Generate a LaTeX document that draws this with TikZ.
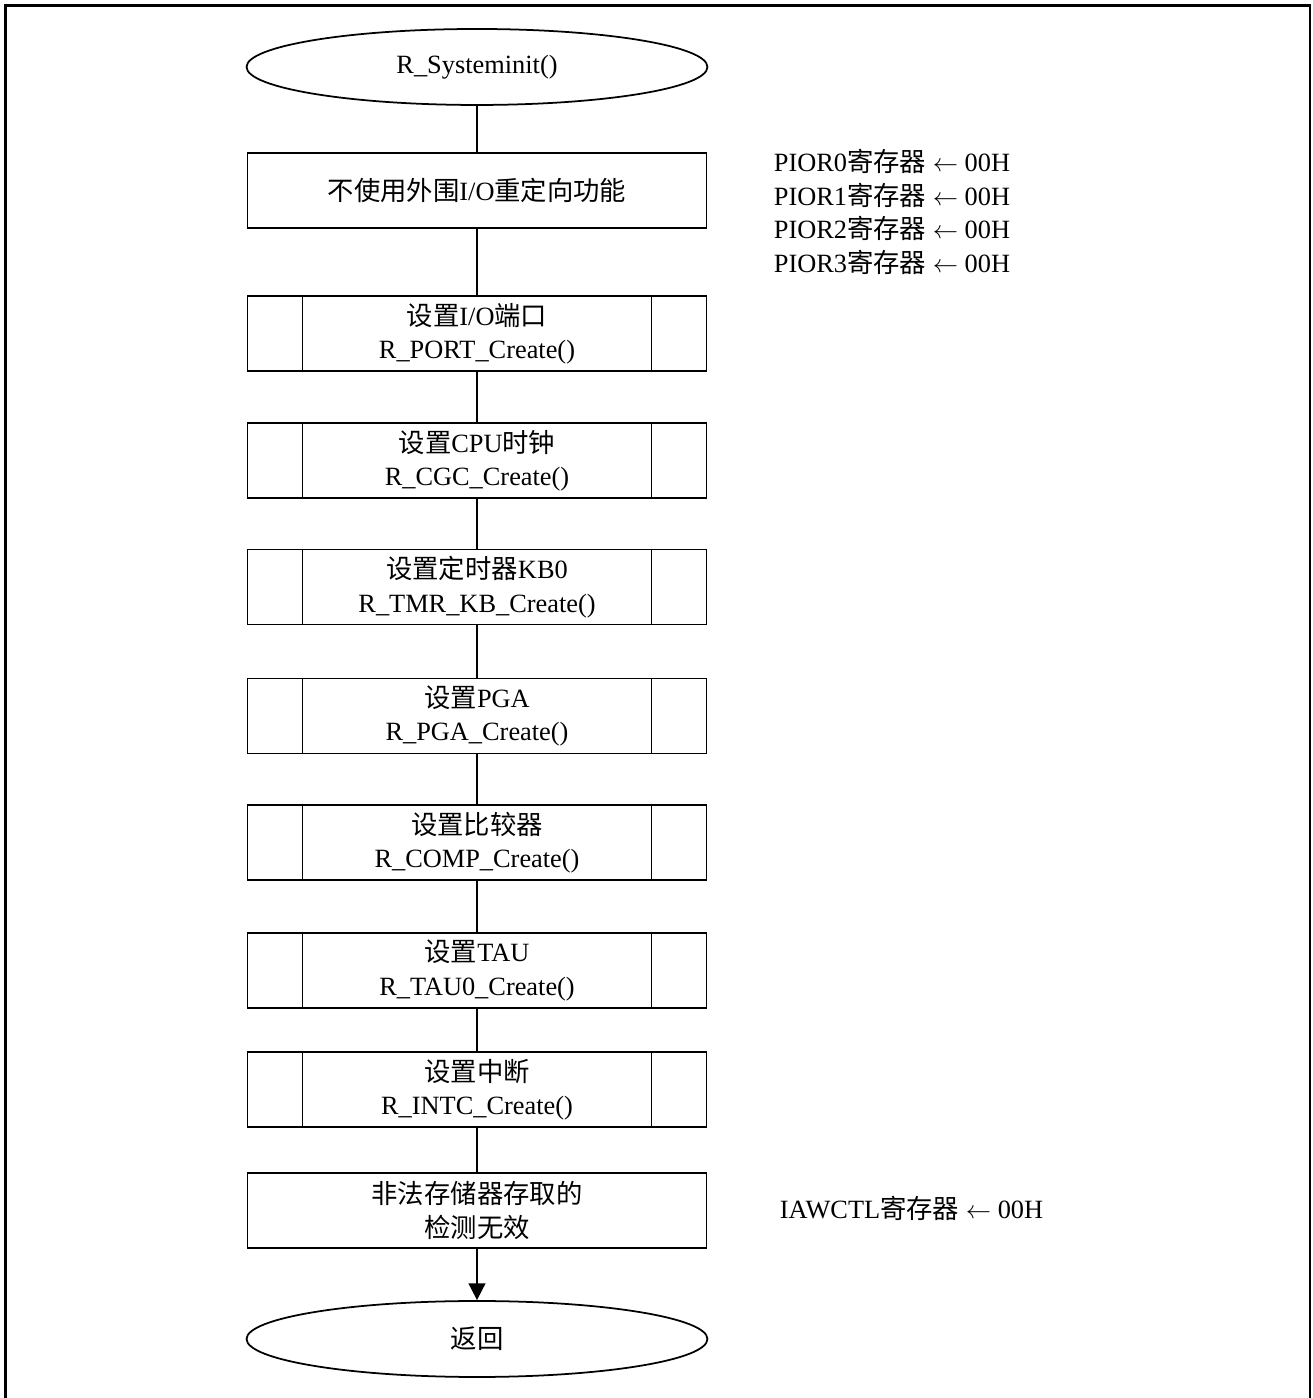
\documentclass[tikz,border=0pt]{standalone}
\usepackage{fontspec}
\setmainfont{Liberation Serif}
\newfontfamily\cjk{Noto Sans CJK SC}
\newcommand{\zh}[1]{{\cjk #1}}
\usetikzlibrary{shapes.geometric,arrows.meta}

\begin{document}
\begin{tikzpicture}[x=0.02cm, y=0.02cm, line width=1pt, font=\fontsize{15}{19}\selectfont,
    term/.style={draw, ellipse, minimum width=9.22cm, minimum height=1.52cm, inner sep=0pt},
    proc/.style={draw, rectangle, minimum width=9.18cm, minimum height=1.5cm, align=center, inner sep=0pt},
    subproc/.style={proc, path picture={
        \draw ([xshift=1.1cm]path picture bounding box.north west) -- ([xshift=1.1cm]path picture bounding box.south west);
        \draw ([xshift=-1.1cm]path picture bounding box.north east) -- ([xshift=-1.1cm]path picture bounding box.south east);}},
    note/.style={anchor=west, align=left, inner sep=0pt}]
  \useasboundingbox (0,0) rectangle (1312,1398);
  % frame, open at the bottom
  \draw[line width=1.6pt] (5.5,-5) -- (5.5,1392.5) -- (1310,1392.5) -- (1310,-5);

  \node[term] (start) at (477,1331) {R\_Systeminit()};
  \node[proc] (init) at (477,1207.5) {\zh{不使用外围}I/O\zh{重定向功能}};
  \node[subproc] (port) at (477,1064.5) {\zh{设置}I/O\zh{端口}\\R\_PORT\_Create()};
  \node[subproc] (cgc) at (477,937.5) {\zh{设置}CPU\zh{时钟}\\R\_CGC\_Create()};
  \node[subproc] (tmr) at (477,811) {\zh{设置定时器}KB0\\R\_TMR\_KB\_Create()};
  \node[subproc] (pga) at (477,682) {\zh{设置}PGA\\R\_PGA\_Create()};
  \node[subproc] (comp) at (477,555.5) {\zh{设置比较器}\\R\_COMP\_Create()};
  \node[subproc] (tau) at (477,427.5) {\zh{设置}TAU\\R\_TAU0\_Create()};
  \node[subproc] (intc) at (477,308.5) {\zh{设置中断}\\R\_INTC\_Create()};
  \node[proc] (iaw) at (477,187.5) {\zh{非法存储器存取的}\\\zh{检测无效}};
  \node[term] (ret) at (477,59) {\zh{返回}};

  \node[note] (piornote) at (773,1186) {PIOR0\zh{寄存器} $\leftarrow$ 00H\\PIOR1\zh{寄存器} $\leftarrow$ 00H\\PIOR2\zh{寄存器} $\leftarrow$ 00H\\PIOR3\zh{寄存器} $\leftarrow$ 00H};
  \node[note] (iawnote) at (779,190) {IAWCTL\zh{寄存器} $\leftarrow$ 00H};

  \foreach \a/\b in {start/init, init/port, port/cgc, cgc/tmr, tmr/pga, pga/comp, comp/tau, tau/intc, intc/iaw}
    \draw (\a) -- (\b);
  \draw[-{Triangle[width=9.5pt, length=9.5pt]}] (iaw) -- (ret);
\end{tikzpicture}
\end{document}
